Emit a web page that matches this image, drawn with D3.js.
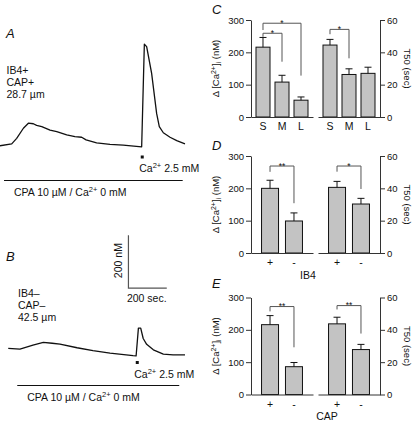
<!DOCTYPE html>
<html><head><meta charset="utf-8">
<script src="https://cdn.jsdelivr.net/npm/d3@7"></script>
<style>
body{margin:0;background:#fff}
svg{display:block}
text{font-family:"Liberation Sans",Arial,Helvetica,sans-serif;fill:#111}
</style>
</head><body>
<svg id="chart" width="416" height="424"></svg>
<script>
// ---------------- data ----------------
// Panel A trace (time in s, [Ca2+] in nM)
const traceATime  = [0,61,87,122,148,174,191,218,261,296,348,391,426,449,504,574,643,739,753,765,791,817,831,852,887,922,965];
const traceAValue = [101,108,129,167,186,184,178,173,160,154,142,135,133,123,112,106,103,97,484,475,374,223,173,150,133,120,108];
// Panel B trace
const traceBTime  = [43,104,172,226,272,313,402,485,574,694,710,722,734,747,765,800,852,903,965];
const traceBValue = [128,125,140,150,147,144,130,119,110,100,99,204,204,165,143,122,106,103,103];
const caOnsetA = 742, caOnsetB = 716;          // s
const cpaA = [21, 953], cpaB = [90, 935];      // s
const cellA = ["IB4+", "CAP+", "28.7 \u00b5m"];
const cellB = ["IB4\u2013", "CAP\u2013", "42.5 \u00b5m"];

// Panel C: cell size
const sizeCats = ["S", "M", "L"];
const cCa = [216, 108, 52],  cCaSem = [30, 21, 10];
const cT50 = [44.5, 26.3, 27], cT50Sem = [3.5, 3.5, 3.8];
// Panel D: IB4
const ibCats = ["+", "-"];
const dCa = [200, 99],  dCaSem = [25, 25];
const dT50 = [40.6, 30.3], dT50Sem = [3.7, 3.5];
// Panel E: CAP
const capCats = ["+", "-"];
const eCa = [216, 86],  eCaSem = [28, 13];
const eT50 = [43.7, 27.8], eT50Sem = [4.1, 3.2];

const caTicks = [0, 100, 200, 300];
const t50Ticks = [0, 20, 40, 60];

// significance brackets: [from index, to index, level, from-leg end, to-leg end, label] (data units)
const cBrLeft  = [[0, 2, 290, 269, 128, "*"], [0, 1, 259, 248, 171, "*"]];
const cBrRight = [[0, 1, 54.2, 51.2, 36.3, "*"]];
const dBrLeft  = [[0, 1, 269, 251, 154, "**"]];
const dBrRight = [[0, 1, 53.8, 50.3, 39.6, "*"]];
const eBrLeft  = [[0, 1, 272, 257, 146, "**"]];
const eBrRight = [[0, 1, 55, 52.6, 37.7, "**"]];

// ---------------- drawing ----------------
const svg = d3.select("#chart");
const FONT = '"Liberation Sans",Arial,Helvetica,sans-serif';

// ---- trace panels ----
function tracePanel(cfg) {
  const g = svg.append("g");
  const x = d3.scaleLinear().domain([0, 1000]).range([0, 191.7]);
  const y = d3.scaleLinear().domain([0, 500]).range([cfg.y0, cfg.y0 - 132.5]);
  const line = d3.line().x(d => x(d[0])).y(d => y(d[1]));
  const pts = cfg.t.map((t, i) => [t, cfg.v[i]]);
  g.append("path").attr("d", line(pts)).attr("fill", "none")
    .attr("stroke", "#111").attr("stroke-width", 1.3).attr("stroke-linejoin", "round");
  // Ca marker
  g.append("rect").attr("x", x(cfg.onset) - 1.5).attr("y", cfg.markY - 1.5)
    .attr("width", 3).attr("height", 3).attr("fill", "#111");
  const ct = g.append("text").attr("x", x(cfg.onset) - 3).attr("y", cfg.markY + 15).attr("font-size", 10.5);
  ct.append("tspan").text("Ca");
  ct.append("tspan").attr("dy", -4).attr("font-size", 7.5).text("2+");
  ct.append("tspan").attr("dy", 4).text(" 2.5 mM");
  // CPA line
  g.append("line").attr("x1", x(cfg.cpa[0])).attr("x2", x(cfg.cpa[1]))
    .attr("y1", cfg.cpaY).attr("y2", cfg.cpaY).attr("stroke", "#111").attr("stroke-width", 1);
  const pt = g.append("text").attr("x", x(cfg.cpa[0]) + 10).attr("y", cfg.cpaY + 15).attr("font-size", 10.5);
  pt.append("tspan").text("CPA 10 \u00b5M / Ca");
  pt.append("tspan").attr("dy", -4).attr("font-size", 7.5).text("2+");
  pt.append("tspan").attr("dy", 4).text(" 0 mM");
  // labels
  g.append("text").attr("x", 6).attr("y", cfg.letterY).attr("font-size", 13)
    .attr("font-style", "italic").text(cfg.letter);
  cfg.cell.forEach((s, i) => g.append("text").attr("x", cfg.cellX).attr("y", cfg.cellY + i * 12)
    .attr("font-size", 10.5).text(s));
  return {x, y, g};
}

tracePanel({t: traceATime, v: traceAValue, y0: 172.5, onset: caOnsetA, markY: 157,
  cpa: cpaA, cpaY: 180.5, letter: "A", letterY: 38, cell: cellA, cellX: 6.5, cellY: 74});
const pB = tracePanel({t: traceBTime, v: traceBValue, y0: 382.2, onset: caOnsetB, markY: 362.5,
  cpa: cpaB, cpaY: 385.5, letter: "B", letterY: 260.5, cell: cellB, cellX: 18, cellY: 296.5});

// scale bar in panel B
const sbT = 670, sbV = 355;
pB.g.append("path")
  .attr("d", `M${pB.x(sbT)},${pB.y(sbV + 200)}V${pB.y(sbV)}H${pB.x(sbT + 200)}`)
  .attr("fill", "none").attr("stroke", "#555").attr("stroke-width", 1.2);
pB.g.append("text").attr("transform", `translate(${pB.x(sbT) - 6},${(pB.y(sbV) + pB.y(sbV + 200)) / 2 - 1}) rotate(-90)`)
  .attr("text-anchor", "middle").attr("font-size", 10.5).text("200 nM");
pB.g.append("text").attr("x", pB.x(sbT) - 1.5).attr("y", pB.y(sbV) + 13.5)
  .attr("font-size", 10.5).text("200 sec.");

// ---- bar panels ----
const LEFT_X = [251, 313], RIGHT_X = [318, 380];

function barPanel(cfg) {
  const g = svg.append("g");
  const yL = d3.scaleLinear().domain([0, 300]).range([cfg.bottom, cfg.top]);
  const yR = d3.scaleLinear().domain([0, 60]).range([cfg.bottom, cfg.top]);
  const mk = r => d3.scaleBand().domain(cfg.cats).range(r).paddingInner(cfg.pi).paddingOuter(cfg.po);
  const xL = mk(LEFT_X), xR = mk(RIGHT_X);

  function group(x, y, vals, sems, brs) {
    const gg = g.append("g");
    gg.selectAll("rect").data(vals).join("rect")
      .attr("x", (d, i) => x(cfg.cats[i])).attr("width", x.bandwidth())
      .attr("y", d => y(d)).attr("height", d => cfg.bottom - y(d))
      .attr("fill", "#c3c3c3").attr("stroke", "#111").attr("stroke-width", 1);
    vals.forEach((d, i) => {
      const cx = x(cfg.cats[i]) + x.bandwidth() / 2;
      gg.append("path").attr("d", `M${cx},${y(d)}V${y(d + sems[i])}M${cx - 3.5},${y(d + sems[i])}H${cx + 3.5}`)
        .attr("stroke", "#111").attr("stroke-width", 1).attr("fill", "none");
    });
    brs.forEach(b => {
      const x1 = x(cfg.cats[b[0]]) + x.bandwidth() / 2, x2 = x(cfg.cats[b[1]]) + x.bandwidth() / 2;
      gg.append("path").attr("d", `M${x1},${y(b[3])}V${y(b[2])}H${x2}V${y(b[4])}`)
        .attr("fill", "none").attr("stroke", "#555").attr("stroke-width", 1);
      gg.append("text").attr("x", (x1 + x2) / 2).attr("y", y(b[2]) + 2.5)
        .attr("text-anchor", "middle").attr("font-size", 8.5).text(b[5]);
    });
    const ax = gg.append("g").attr("transform", `translate(0,${cfg.bottom})`)
      .call(d3.axisBottom(x).tickSize(0).tickSizeOuter(0).tickPadding(6));
    ax.select(".domain").attr("stroke", "#333");
    ax.selectAll("text").attr("font-size", 10.5).attr("font-family", FONT).attr("fill", "#111");
  }
  group(xL, yL, cfg.ca, cfg.caSem, cfg.brL);
  group(xR, yR, cfg.t50, cfg.t50Sem, cfg.brR);

  const al = g.append("g").attr("transform", `translate(${LEFT_X[0]},0)`)
    .call(d3.axisLeft(yL).tickValues(caTicks).tickSize(5).tickSizeOuter(0).tickPadding(2));
  const ar = g.append("g").attr("transform", `translate(${RIGHT_X[1]},0)`)
    .call(d3.axisRight(yR).tickValues(t50Ticks).tickSize(5).tickSizeOuter(0).tickPadding(2));
  [al, ar].forEach(a => {
    a.select(".domain").attr("stroke", "#333");
    a.selectAll(".tick line").attr("stroke", "#333");
    a.selectAll("text").attr("font-size", 9.5).attr("font-family", FONT).attr("fill", "#111");
  });

  const mid = (cfg.top + cfg.bottom) / 2;
  const lt = g.append("text").attr("transform", `translate(219,${mid}) rotate(-90)`)
    .attr("text-anchor", "middle").attr("font-size", 9.5);
  lt.append("tspan").text("\u0394 [Ca");
  lt.append("tspan").attr("dy", -3.5).attr("font-size", 7).text("2+");
  lt.append("tspan").attr("dy", 3.5).text("]");
  lt.append("tspan").attr("dy", 2).attr("font-size", 7).text("i");
  lt.append("tspan").attr("dy", -2).text(" (nM)");
  g.append("text").attr("transform", `translate(404,${mid}) rotate(90)`)
    .attr("text-anchor", "middle").attr("font-size", 9.5).text("T50 (sec)");

  g.append("text").attr("x", 212).attr("y", cfg.letterY).attr("font-size", 13)
    .attr("font-style", "italic").text(cfg.letter);
  if (cfg.xTitle) g.append("text").attr("x", cfg.xTitleX).attr("y", cfg.bottom + 25.5)
    .attr("text-anchor", "middle").attr("font-size", 10.5).text(cfg.xTitle);
}

barPanel({top: 20, bottom: 117, cats: sizeCats, pi: 0.263, po: 0.263,
  ca: cCa, caSem: cCaSem, t50: cT50, t50Sem: cT50Sem, brL: cBrLeft, brR: cBrRight,
  letter: "C", letterY: 14});
barPanel({top: 156, bottom: 253, cats: ibCats, pi: 0.29, po: 0.44,
  ca: dCa, caSem: dCaSem, t50: dT50, t50Sem: dT50Sem, brL: dBrLeft, brR: dBrRight,
  letter: "D", letterY: 150, xTitle: "IB4", xTitleX: 308});
barPanel({top: 297.5, bottom: 394.5, cats: capCats, pi: 0.29, po: 0.44,
  ca: eCa, caSem: eCaSem, t50: eT50, t50Sem: eT50Sem, brL: eBrLeft, brR: eBrRight,
  letter: "E", letterY: 288, xTitle: "CAP", xTitleX: 327});
</script>
</body></html>
